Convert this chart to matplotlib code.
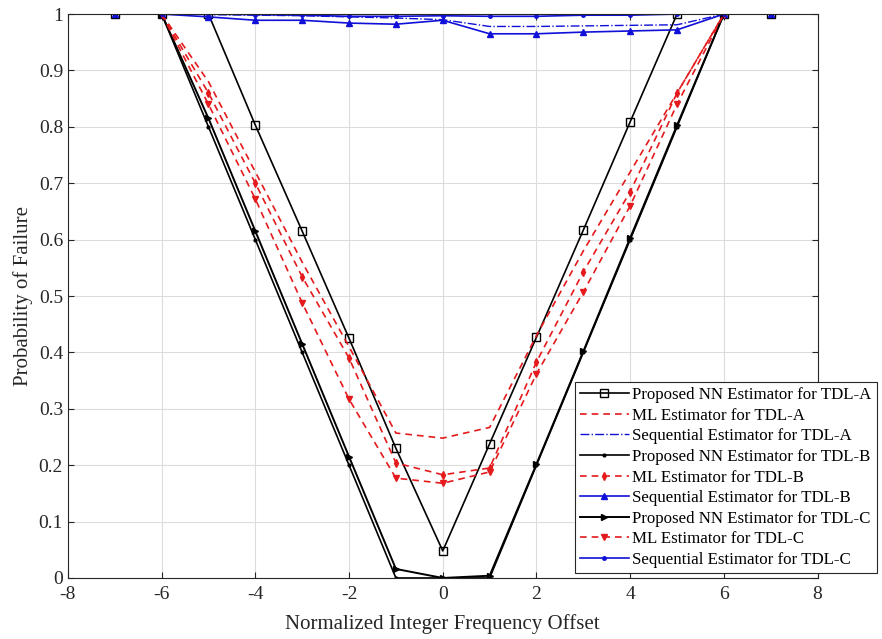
import numpy as np
from matplotlib import pyplot as plt

plt.rcParams['font.family'] = ['Liberation Serif', 'DejaVu Serif']
plt.rcParams['axes.unicode_minus'] = False

# Offsets
x_long = [-7, -6, -5, -4, -3, -2, -1, 0, 1, 2, 3, 4, 5, 6, 7]
x_short = [-6, -5, -4, -3, -2, -1, 0, 1, 2, 3, 4, 5, 6]

# Proposed NN estimators
nn_a = [1, 1, 1, 0.803, 0.615, 0.425, 0.230, 0.048, 0.238, 0.427, 0.617, 0.809, 1, 1, 1]
nn_b = [1, 0.80, 0.60, 0.40, 0.20, 0.0, 0.0, 0.0, 0.20, 0.40, 0.60, 0.80, 1]
nn_c = [1, 0.815, 0.615, 0.415, 0.215, 0.016, 0.0, 0.004, 0.202, 0.402, 0.603, 0.803, 1]

# ML estimators
ml_a = [1, 0.88, 0.72, 0.56, 0.41, 0.257, 0.248, 0.267, 0.43, 0.58, 0.72, 0.86, 1]
ml_b = [1, 0.86, 0.70, 0.534, 0.39, 0.204, 0.183, 0.195, 0.383, 0.543, 0.685, 0.86, 1]
ml_c = [1, 0.84, 0.672, 0.488, 0.317, 0.177, 0.168, 0.188, 0.362, 0.507, 0.66, 0.84, 1]

# Sequential estimators
seq_a = [1, 1, 0.999, 0.998, 0.997, 0.995, 0.993, 0.99, 0.978, 0.978, 0.979, 0.98, 0.981, 1, 1]
seq_b = [1, 1, 0.995, 0.989, 0.989, 0.984, 0.982, 0.989, 0.965, 0.965, 0.968, 0.970, 0.972, 1, 1]
seq_c = [1, 1, 1, 0.999, 0.998, 0.996, 0.996, 0.997, 0.996, 0.996, 0.998, 0.998, 1, 1, 1]

labels = ['Proposed NN Estimator for TDL-A', 'ML Estimator for TDL-A',
          'Sequential Estimator for TDL-A', 'Proposed NN Estimator for TDL-B',
          'ML Estimator for TDL-B', 'Sequential Estimator for TDL-B',
          'Proposed NN Estimator for TDL-C', 'ML Estimator for TDL-C',
          'Sequential Estimator for TDL-C']

red = '#e41a1c'
blue = '#1010d8'

fig = plt.figure(figsize=(8.82, 6.39), dpi=100)
ax = fig.add_axes([0.077, 0.0955, 0.850, 0.8825])

ax.plot(x_long, nn_a, color='k', lw=1.2, marker='s', ms=6, mfc='none', mec='k', label=labels[0])
ax.plot(x_short, ml_a, color=red, lw=1.2, ls=(0, (4, 3)), label=labels[1])
ax.plot(x_long, seq_a, color=blue, lw=1.0, ls='-.', label=labels[2])
ax.plot(x_short, nn_b, color='k', lw=1.2, marker='.', ms=4, label=labels[3])
ax.plot(x_short, ml_b, color=red, lw=1.2, ls=(0, (4, 3)), marker='d', ms=4, label=labels[4])
ax.plot(x_long, seq_b, color=blue, lw=1.2, marker='^', ms=5, label=labels[5])
ax.plot(x_short, nn_c, color='k', lw=1.4, marker='>', ms=5, label=labels[6])
ax.plot(x_short, ml_c, color=red, lw=1.2, ls=(0, (4, 3)), marker='v', ms=5, label=labels[7])
ax.plot(x_long, seq_c, color=blue, lw=1.2, marker='.', ms=5, label=labels[8])

ax.set_xlim(-8, 8)
ax.set_ylim(0, 1)
ax.set_xticks(np.arange(-8, 9, 2))
ax.set_yticks(np.arange(0, 1.01, 0.1))
ax.set_xticklabels(['-8', '-6', '-4', '-2', '0', '2', '4', '6', '8'])
ax.set_yticklabels(['0', '0.1', '0.2', '0.3', '0.4', '0.5', '0.6', '0.7', '0.8', '0.9', '1'])
ax.tick_params(direction='in', top=True, right=True, labelsize=14, colors='#262626', length=4)
ax.tick_params(axis='x', pad=6)
ax.grid(True, color='#dcdcdc', lw=0.8)
for s in ax.spines.values():
    s.set_color('#262626')
    s.set_linewidth(0.8)

ax.set_xlabel('Normalized Integer Frequency Offset', fontsize=15, color='#262626', labelpad=8)
ax.set_ylabel('Probability of Failure', fontsize=15, color='#262626', labelpad=4)

leg = ax.legend(loc='lower left', bbox_to_anchor=(0.676, 0.009), borderaxespad=0,
                fontsize=12.2, handlelength=2.9, labelspacing=0.27, handletextpad=0.2,
                borderpad=0.3, fancybox=False, framealpha=1, edgecolor='#262626')
leg.get_frame().set_linewidth(0.8)

fig.savefig('out.png', dpi=100)
